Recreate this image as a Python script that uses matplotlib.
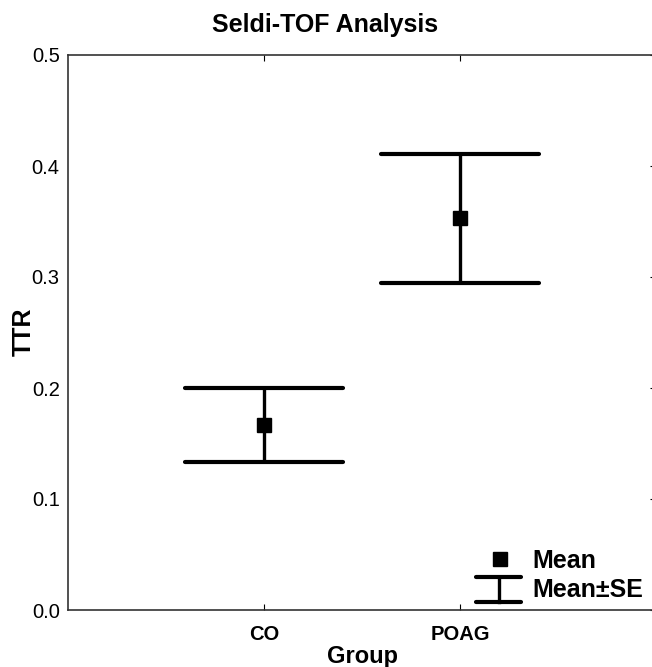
import matplotlib
matplotlib.use('Agg')
import matplotlib.pyplot as plt

plt.rcParams.update({'font.family': ['Liberation Sans', 'DejaVu Sans'],
                     'axes.linewidth': 1.2,
                     'axes.edgecolor': '#333333'})

groups = ['CO', 'POAG']
means = [0.1667, 0.3532]
upper = [0.2001, 0.4106]
lower = [0.1336, 0.2945]

fig = plt.figure(figsize=(6.52, 6.67), dpi=100)
ax = fig.add_axes([68/652, 57/667, 588/652, 555/667])

xpos = [1, 2]
for x, m, lo, hi in zip(xpos, means, lower, upper):
    ax.vlines(x, lo, hi, color='k', lw=2.4)
    ax.hlines([lo, hi], x - 0.405, x + 0.405, color='k', lw=3, capstyle='round')
    ax.plot(x, m, 's', color='k', ms=10.5)

ax.set_xlim(0, 3)
ax.set_ylim(0, 0.5)
ax.set_xticks(xpos)
ax.set_xticklabels(groups, fontsize=14.5, fontweight='bold')
ax.set_yticks([0.0, 0.1, 0.2, 0.3, 0.4, 0.5])
ax.set_yticklabels(['0.0', '0.1', '0.2', '0.3', '0.4', '0.5'], fontsize=14.5)
ax.tick_params(axis='x', direction='in', length=4, top=True, pad=11)
ax.tick_params(axis='y', direction='in', length=0, right=True, pad=6)
for t in ax.yaxis.get_ticklines()[1::2]:
    t.set_markersize(4)

fig.text(362/652, 1 - 656/667, 'Group', fontsize=17, fontweight='bold',
         ha='center', va='center')
fig.text(24/652, 1 - 332/667, 'TTR', fontsize=18, fontweight='bold',
         rotation=90, ha='center', va='center')
fig.text(325/652, 1 - 25/667, 'Seldi-TOF Analysis', fontsize=18,
         fontweight='bold', ha='center', va='center')

# legend drawn by hand
tr = ax.transAxes
ax.plot(0.734, 0.092, 's', color='k', ms=10.5, transform=tr, clip_on=False)
ax.plot([0.733, 0.733], [0.0144, 0.0595], color='k', lw=2.4, transform=tr)
ax.plot([0.694, 0.771], [0.0595, 0.0595], color='k', lw=3, transform=tr,
        solid_capstyle='round')
ax.plot([0.694, 0.771], [0.0144, 0.0144], color='k', lw=3, transform=tr,
        solid_capstyle='round')
ax.text(0.789, 0.092, 'Mean', transform=tr, fontsize=18, fontweight='bold',
        va='center_baseline')
ax.text(0.789, 0.0405, 'Mean\u00b1SE', transform=tr, fontsize=18,
        fontweight='bold', va='center_baseline')

fig.savefig('out.png', dpi=100)
